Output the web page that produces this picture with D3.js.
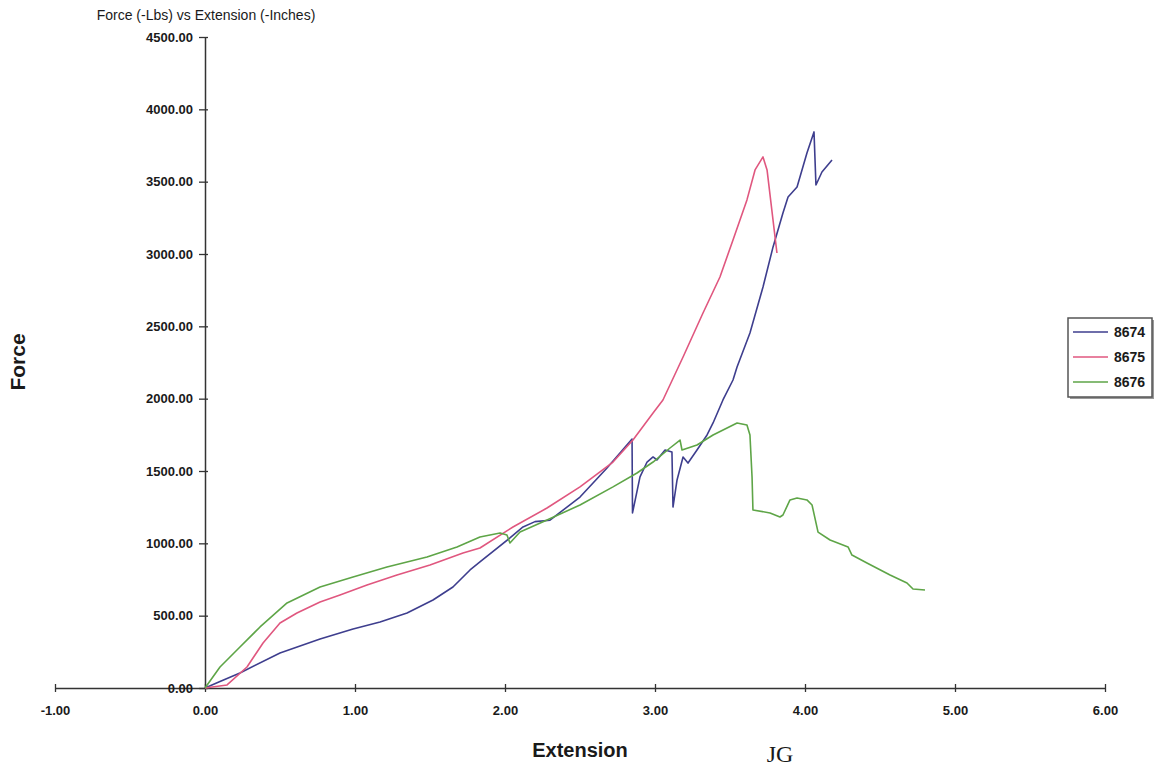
<!DOCTYPE html>
<html>
<head>
<meta charset="utf-8">
<script src="https://cdn.jsdelivr.net/npm/d3@7"></script>
<style>
  body { margin: 0; background: #fff; }
  svg text { font-family: "Liberation Sans", Arial, sans-serif; fill: #1a1a1a; }
</style>
</head>
<body>
<div id="chart"></div>
<script>
// values
var xTicks = [-1, 0, 1, 2, 3, 4, 5, 6];
var yTicks = [0, 500, 1000, 1500, 2000, 2500, 3000, 3500, 4000, 4500];
var seriesNames = ["8674", "8675", "8676"];
var seriesColors = ["#3e3e8e", "#e0577f", "#5ea547"];

var ext8674 = [0, 0.1, 0.233, 0.5, 0.767, 0.987, 1.167, 1.347, 1.52, 1.653, 1.767, 1.833, 2.033, 2.12, 2.2, 2.3, 2.5, 2.68, 2.847,
  2.85, 2.9, 2.947, 2.987, 3.013, 3.067, 3.113, 3.12, 3.147, 3.187, 3.22, 3.28, 3.347, 3.387, 3.453, 3.52, 3.547,
  3.633, 3.72, 3.787, 3.853, 3.887, 3.947, 4.013, 4.06, 4.073, 4.113, 4.18];
var force8674 = [0, 45, 104, 242, 339, 408, 456, 518, 608, 698, 816, 871, 1037, 1113, 1150, 1160, 1320, 1521, 1721,
  1210, 1459, 1562, 1597, 1576, 1645, 1631, 1251, 1438, 1597, 1555, 1645, 1749, 1832, 1991, 2129, 2219,
  2454, 2772, 3049, 3284, 3394, 3463, 3698, 3844, 3477, 3567, 3650];

var ext8675 = [0, 0.147, 0.28, 0.387, 0.5, 0.613, 0.767, 0.9, 1.08, 1.28, 1.5, 1.72, 1.833, 2.053, 2.28, 2.5, 2.72,
  2.853, 2.987, 3.053, 3.187, 3.32, 3.433, 3.52, 3.613, 3.667, 3.72, 3.747, 3.813];
var force8675 = [0, 21, 145, 311, 449, 518, 595, 643, 712, 781, 850, 933, 968, 1113, 1244, 1390, 1562,
  1714, 1901, 1991, 2288, 2592, 2841, 3097, 3374, 3581, 3671, 3581, 3007];

var ext8676 = [0, 0.1, 0.233, 0.367, 0.547, 0.767, 0.987, 1.213, 1.48, 1.68, 1.833, 1.967, 2.013, 2.033, 2.1, 2.28, 2.5,
  2.72, 2.88, 2.987, 3.1, 3.167, 3.18, 3.28, 3.387, 3.547, 3.613, 3.633, 3.647, 3.653, 3.767, 3.833, 3.853, 3.9,
  3.947, 4.013, 4.047, 4.087, 4.167, 4.287, 4.313, 4.413, 4.567, 4.68, 4.72, 4.8];
var force8676 = [0, 145, 283, 422, 588, 698, 767, 836, 906, 975, 1044, 1072, 1058, 1002, 1078, 1161, 1265,
  1390, 1486, 1562, 1659, 1714, 1645, 1680, 1749, 1832, 1818, 1749, 1459, 1231, 1210, 1182, 1196, 1300,
  1313, 1300, 1265, 1078, 1023, 975, 919, 864, 781, 726, 684, 677];

var allExt = [ext8674, ext8675, ext8676];
var allForce = [force8674, force8675, force8676];

var W = 1154, H = 771;
var svg = d3.select("#chart").append("svg").attr("width", W).attr("height", H);

var x = d3.scaleLinear().domain([-1, 6]).range([55, 1105]);
var y = d3.scaleLinear().domain([0, 4500]).range([688, 37]);
// plain hyphen for negatives, like the original
var fmt = function (d) { return d.toFixed(2); };

// x axis runs along force = 0
var gx = svg.append("g").attr("transform", "translate(0," + y(0) + ")")
  .call(d3.axisBottom(x).tickValues(xTicks).tickFormat(fmt).tickSize(4).tickSizeOuter(0).tickPadding(14));
gx.selectAll(".tick line").attr("y1", -4);
gx.select(".domain").attr("stroke", "#333").attr("stroke-width", 1.5);
gx.selectAll(".tick line").attr("stroke", "#333").attr("stroke-width", 1.3);
gx.selectAll(".tick text").attr("font-size", 13).attr("font-weight", "bold")
  .attr("font-family", "Liberation Sans, Arial, sans-serif").attr("fill", "#1a1a1a");

var gy = svg.append("g").attr("transform", "translate(" + x(0) + ",0)")
  .call(d3.axisLeft(y).tickValues(yTicks).tickFormat(fmt).tickSize(6).tickSizeOuter(0).tickPadding(6));
gy.selectAll(".tick line").attr("x1", 3);
gy.select(".domain").attr("stroke", "#333").attr("stroke-width", 1.5);
gy.selectAll(".tick line").attr("stroke", "#333").attr("stroke-width", 1.3);
gy.selectAll(".tick text").attr("font-size", 13).attr("font-weight", "bold")
  .attr("font-family", "Liberation Sans, Arial, sans-serif").attr("fill", "#1a1a1a");

var line = d3.line().x(function (d) { return x(d[0]); }).y(function (d) { return y(d[1]); });

seriesNames.forEach(function (name, i) {
  var pts = allExt[i].map(function (e, j) { return [e, allForce[i][j]]; });
  svg.append("path").datum(pts)
    .attr("d", line)
    .attr("fill", "none")
    .attr("stroke", seriesColors[i])
    .attr("stroke-width", 1.6)
    .attr("stroke-linejoin", "round");
});

// titles
svg.append("text").attr("x", 206).attr("y", 20).attr("text-anchor", "middle")
  .attr("font-size", 14).text("Force (-Lbs) vs Extension (-Inches)");
svg.append("text").attr("x", 580).attr("y", 757).attr("text-anchor", "middle")
  .attr("font-size", 20).attr("font-weight", "bold").text("Extension");
svg.append("text").attr("transform", "translate(25,362) rotate(-90)").attr("text-anchor", "middle")
  .attr("font-size", 21).attr("font-weight", "bold").text("Force");
svg.append("text").attr("x", 780).attr("y", 762).attr("text-anchor", "middle")
  .attr("font-size", 24)
  .style("font-family", "Liberation Serif, serif").attr("fill", "#333").text("JG");

// legend
var lg = svg.append("g").attr("transform", "translate(1068,318)");
lg.append("rect").attr("x", 2).attr("y", 2).attr("width", 84).attr("height", 79).attr("fill", "#999");
lg.append("rect").attr("width", 84).attr("height", 79).attr("fill", "#fff").attr("stroke", "#555").attr("stroke-width", 1.5);
seriesNames.forEach(function (name, i) {
  var ry = 14 + i * 25;
  lg.append("line").attr("x1", 5).attr("x2", 40).attr("y1", ry).attr("y2", ry)
    .attr("stroke", seriesColors[i]).attr("stroke-width", 1.6);
  lg.append("text").attr("x", 46).attr("y", ry + 5).attr("font-size", 14).attr("font-weight", "bold").text(name);
});
</script>
</body>
</html>
